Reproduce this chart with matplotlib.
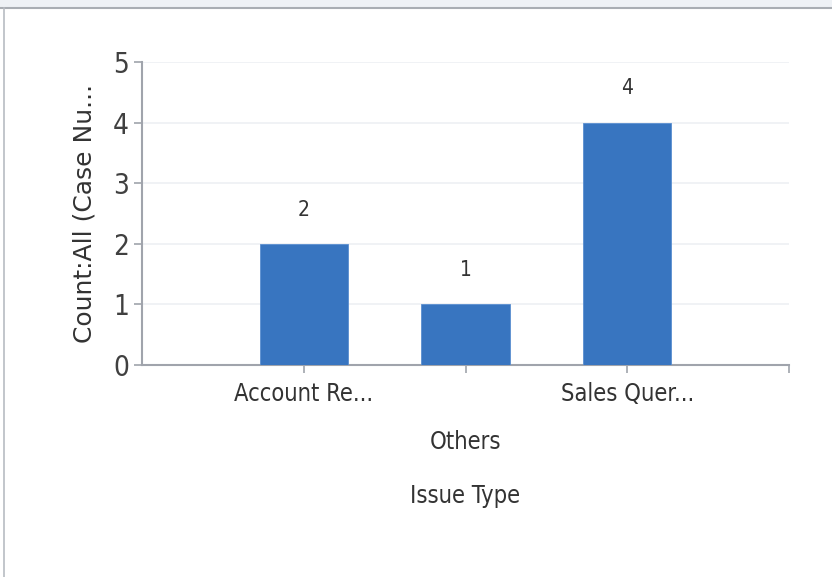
import matplotlib.pyplot as plt
from matplotlib.patches import Rectangle
from matplotlib.lines import Line2D

# Data
categories = ['Account Re...', 'Others', 'Sales Quer...']
counts = [2, 1, 4]
y_ticks = [0, 1, 2, 3, 4, 5]

plt.rcParams['font.family'] = ['DejaVu Sans']
plt.rcParams['font.stretch'] = 'condensed'

fig = plt.figure(figsize=(8.32, 5.77), dpi=100)
fig.patch.set_facecolor('white')

# frame around the chart panel (top band and left edge)
fig.patches.append(Rectangle((0, 1 - 7 / 577), 1, 7 / 577, transform=fig.transFigure,
                             facecolor='#eef1f5', edgecolor='none'))
fig.lines.append(Line2D([0, 1], [1 - 8 / 577, 1 - 8 / 577], transform=fig.transFigure,
                        color='#a9adb3', linewidth=1.5))
fig.lines.append(Line2D([3.5 / 832, 3.5 / 832], [0, 1 - 8 / 577], transform=fig.transFigure,
                        color='#b8bcc2', linewidth=1.2))

ax = fig.add_axes([142 / 832, 1 - 365 / 577, (789 - 142) / 832, (365 - 62) / 577])

x = list(range(len(categories)))
ax.bar(x, counts, width=0.545, color='#3875c0', edgecolor='#5a8fd0', linewidth=0.6, zorder=3)

# value labels above bars
for xi, v in zip(x, counts):
    ax.text(xi, v + 0.4, str(v), ha='center', va='bottom', fontsize=15, color='#333333')

ax.set_xlim(-1, 3)
ax.set_ylim(0, 5)
ax.set_yticks(y_ticks)
ax.set_xticks([0, 1, 2, 3])
ax.set_xticklabels(['', '', '', ''])

# staggered category labels
for xi, name in zip(x, categories):
    ax.annotate(name, xy=(xi, 0), xycoords='data', xytext=(0, -17 if xi % 2 == 0 else -65),
                textcoords='offset pixels', ha='center', va='top', fontsize=17, color='#333333')

ax.set_xlabel('Issue Type', fontsize=17, color='#333333', labelpad=76)
ax.set_ylabel('Count:All (Case Nu...', fontsize=18, color='#333333', labelpad=12,
              fontstretch='normal')

ax.grid(axis='y', color='#eef0f4', linewidth=1.2, zorder=0)
for side in ['top', 'right']:
    ax.spines[side].set_visible(False)
for side in ['left', 'bottom']:
    ax.spines[side].set_color('#a0a4ac')
    ax.spines[side].set_linewidth(1.5)

ax.tick_params(axis='y', labelsize=20, colors='#a0a4ac', labelcolor='#404040', length=6, width=1.2)
ax.tick_params(axis='x', colors='#a0a4ac', length=6, width=1.2)

plt.savefig('out.png', dpi=100)
